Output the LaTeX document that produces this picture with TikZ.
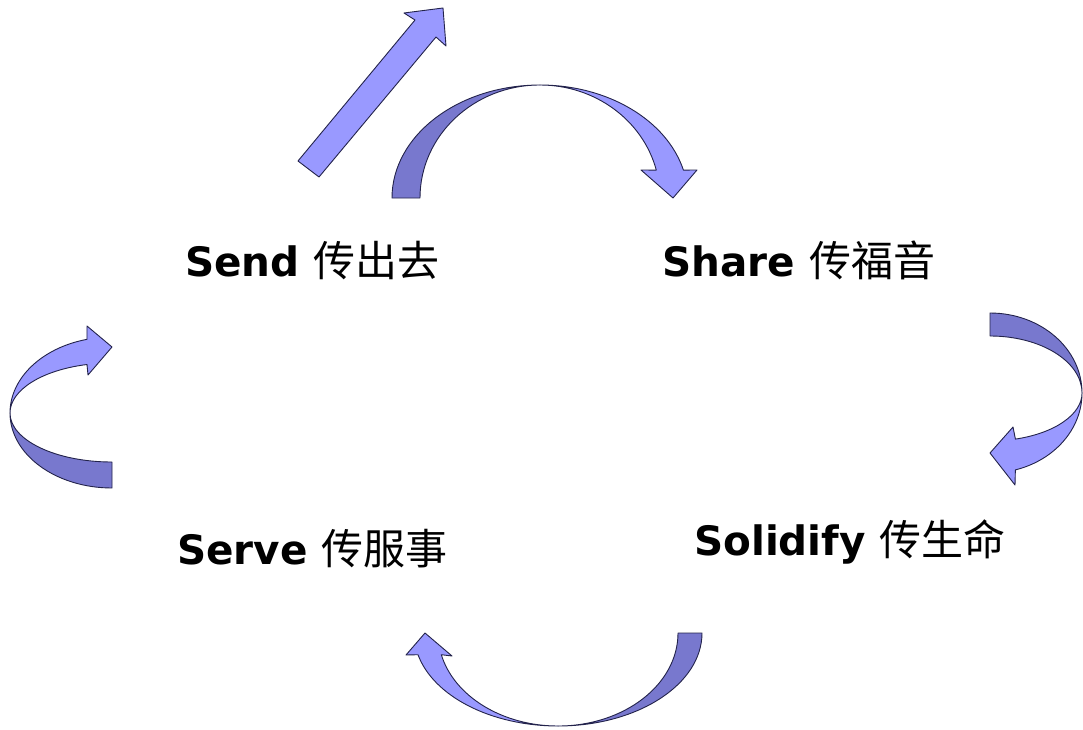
\documentclass[tikz,border=0pt]{standalone}
\usepackage{fontspec}
\setmainfont{DejaVu Sans}
\newfontfamily\cjkfont{Noto Sans CJK SC}
\newcommand\zhtext[1]{{\cjkfont\mdseries\fontsize{42}{48}\selectfont #1}}
\definecolor{lightc}{RGB}{153,153,255}
\definecolor{darkc}{RGB}{120,120,206}
\definecolor{edgec}{RGB}{35,35,75}
\tikzset{
  front/.style={fill=lightc, draw=edgec, line width=0.9pt, line join=round},
  back/.style={fill=darkc, draw=edgec, line width=0.9pt, line join=round},
  lbl/.style={anchor=base west, inner sep=0pt, font=\bfseries\fontsize{40.5}{48}\selectfont}
}
\begin{document}
\begin{tikzpicture}[x=1pt,y=-1pt]
\useasboundingbox (0,0) rectangle (1083,730);
% straight arrow
\draw[front] (298,161) -- (415,20) -- (404,13) -- (443,8) -- (446,46) -- (436,37) -- (319,177) -- cycle;
% top curved arrow
\draw[back] (392,198) arc[start angle=180,end angle=270,x radius=148,y radius=113]
  arc[start angle=270,end angle=180,x radius=120,y radius=113] -- cycle;
\draw[front] (540,85) arc[start angle=270,end angle=345.7,x radius=148,y radius=113]
  -- (697,170) -- (673,198) -- (641,170) -- (656.3,170.1)
  arc[start angle=345.7,end angle=270,x radius=120,y radius=113] -- cycle;
% right curved arrow
\draw[back] (990,313) arc[start angle=270,end angle=360,x radius=92,y radius=80]
  arc[start angle=0,end angle=-90,x radius=92,y radius=57] -- cycle;
\draw[front] (1082,393) arc[start angle=0,end angle=74,x radius=92,y radius=80]
  -- (1015,485) -- (990,453) -- (1013,427) -- (1015.4,439.1)
  arc[start angle=74,end angle=0,x radius=92,y radius=48] -- cycle;
% bottom curved arrow
\draw[back] (702,633) arc[start angle=0,end angle=90,x radius=144,y radius=93]
  arc[start angle=90,end angle=0,x radius=120,y radius=93] -- cycle;
\draw[front] (558,726) arc[start angle=90,end angle=166.5,x radius=144,y radius=93]
  -- (406,655) -- (425,633) -- (452,656) -- (441.3,654.7)
  arc[start angle=166.5,end angle=90,x radius=120,y radius=93] -- cycle;
% left curved arrow
\draw[back] (10,413) arc[start angle=180,end angle=90,x radius=102,y radius=75]
  -- (112,462) arc[start angle=90,end angle=180,x radius=102,y radius=49] -- cycle;
\draw[front] (10,413) arc[start angle=180,end angle=255.8,x radius=102,y radius=76]
  -- (87,326) -- (112,347) -- (88,375) -- (87,364.5)
  arc[start angle=255.8,end angle=180,x radius=102,y radius=50] -- cycle;
% labels
\node[lbl] (send) at (185,276) {Send \zhtext{传出去}};
\node[lbl] (share) at (662,276) {Share \zhtext{传福音}};
\node[lbl] (serve) at (177,564) {Serve \zhtext{传服事}};
\node[lbl] (solidify) at (694,555) {Solidify \zhtext{传生命}};
\end{tikzpicture}
\end{document}
